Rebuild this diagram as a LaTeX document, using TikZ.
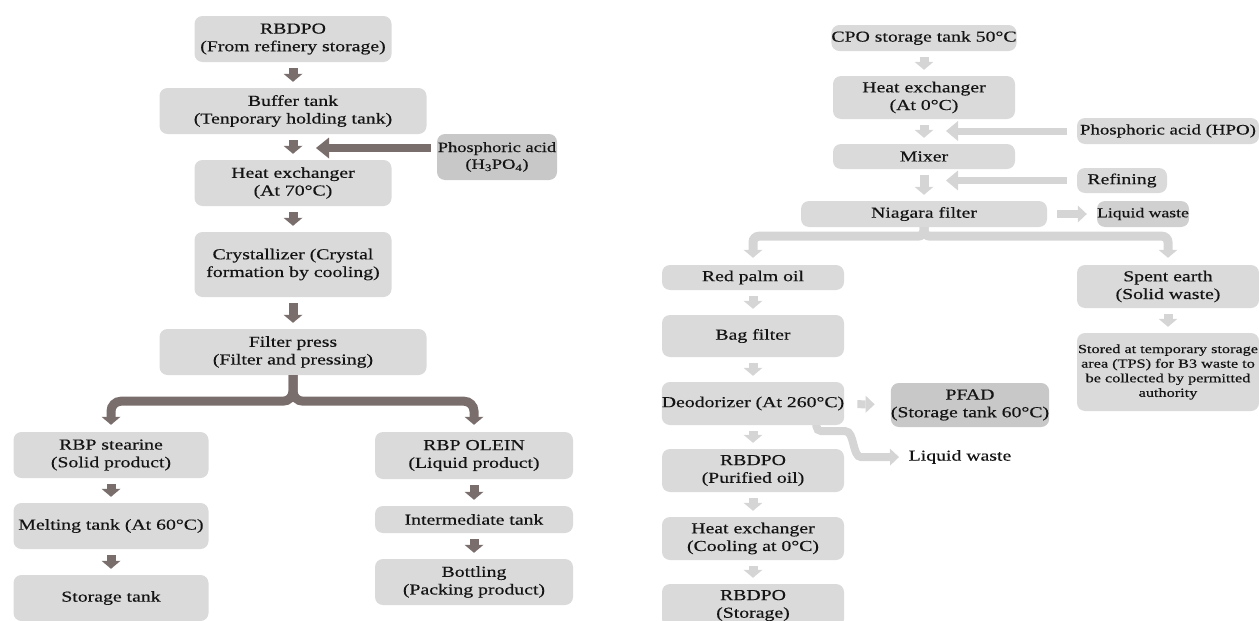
\documentclass[tikz,border=0pt]{standalone}
\usepackage{fontspec}
\setmainfont{Liberation Serif}[FakeStretch=1.3,FakeBold=0.4]
\usetikzlibrary{arrows.meta}

\newlength{\du}
\setlength{\du}{1pt}

\definecolor{boxgray}{rgb}{0.855000, 0.855000, 0.855000}
\definecolor{acidgray}{rgb}{0.785000, 0.785000, 0.785000}
\definecolor{wastegray}{rgb}{0.815000, 0.815000, 0.815000}
\definecolor{taupe}{rgb}{0.478000, 0.431000, 0.424000}
\definecolor{palegray}{rgb}{0.835000, 0.835000, 0.835000}
\definecolor{inkblack}{rgb}{0.080000, 0.080000, 0.080000}

% tip sizes in pt (1\du = 1pt)
\tikzset{
  procbox/.style={rounded corners=8\du, fill=boxgray, align=center, inner sep=0pt,
    text=inkblack, font=\fontsize{15.2}{17.7}\selectfont},
  acidbox/.style={procbox, fill=acidgray, font=\fontsize{14.2}{16.8}\selectfont},
  smallbox/.style={procbox, fill=wastegray, font=\fontsize{13.6}{16}\selectfont},
  notebox/.style={procbox, font=\fontsize{12.5}{14.6}\selectfont},
  freelabel/.style={inner sep=0pt, text=inkblack, font=\fontsize{15.2}{17.7}\selectfont},
  flowdown/.style={draw=taupe, line width=9\du, shorten <=6\du, shorten >=6\du,
    -{Triangle[width=19pt,length=8pt,line width=0pt]}},
  feedin/.style={draw=taupe, line width=8\du, shorten <=6\du,
    -{Triangle[width=21pt,length=13pt,line width=0pt]}},
  paledown/.style={flowdown, draw=palegray},
  palefeed/.style={draw=palegray, line width=7\du, shorten <=10\du,
    -{Triangle[width=20pt,length=12pt,line width=0pt]}},
  paleside/.style={draw=palegray, line width=8\du, shorten <=10\du, shorten >=10\du,
    -{Triangle[width=17pt,length=9pt,line width=0pt]}},
}

\begin{document}
\begin{tikzpicture}
\pgftransformxscale{1.000000}
\pgftransformyscale{-1.000000}
\useasboundingbox (0\du,0\du) rectangle (1259\du,621\du);
\clip (0\du,0\du) rectangle (1259\du,621\du);

% fractionation line
\node[procbox, minimum width=197\du, minimum height=46\du] (rbdpo) at (293\du,39\du) {RBDPO\\(From refinery storage)};
\node[procbox, minimum width=267\du, minimum height=46\du] (buffer) at (293\du,111\du) {Buffer tank\\(Tenporary holding tank)};
\node[acidbox, minimum width=120\du, minimum height=46\du] (phos) at (497\du,157\du) {Phosphoric acid\\(H\textsubscript{3}PO\textsubscript{4})};
\node[procbox, minimum width=197\du, minimum height=46\du] (heatA) at (293\du,183\du) {Heat exchanger\\(At 70°C)};
\node[procbox, minimum width=197\du, minimum height=65\du] (cryst) at (293\du,264.5\du) {Crystallizer (Crystal\\formation by cooling)};
\node[procbox, minimum width=267\du, minimum height=46\du] (fpress) at (293\du,352\du) {Filter press\\(Filter and pressing)};
\node[procbox, minimum width=195\du, minimum height=46\du] (stearine) at (111\du,455\du) {RBP stearine\\(Solid product)};
\node[procbox, minimum width=195\du, minimum height=46\du] (melting) at (111\du,526\du) {Melting tank (At 60°C)};
\node[procbox, minimum width=195\du, minimum height=46\du] (storage) at (111\du,598\du) {Storage tank};
\node[procbox, minimum width=198\du, minimum height=47\du] (olein) at (474\du,455.5\du) {RBP OLEIN\\(Liquid product)};
\node[procbox, minimum width=198\du, minimum height=27\du] (inter) at (474\du,519.5\du) {Intermediate tank};
\node[procbox, minimum width=198\du, minimum height=46\du] (bottling) at (474\du,582\du) {Bottling\\(Packing product)};
\coordinate (acidtip) at (316\du,148\du);

\draw[flowdown] (rbdpo) -- (buffer);
\draw[flowdown] (buffer) -- (heatA);
\draw[feedin] (phos.west |- acidtip) -- (acidtip);
\draw[flowdown] (heatA) -- (cryst);
\draw[flowdown] (cryst) -- (fpress);
\draw[flowdown, shorten <=0pt, shorten >=7\du, rounded corners=10\du] (fpress.south) -- ++(0\du,26\du) -| (stearine.north);
\draw[flowdown, shorten <=0pt, shorten >=7\du, rounded corners=10\du] (fpress.south) -- ++(0\du,26\du) -| (olein.north);
\draw[flowdown] (stearine) -- (melting);
\draw[flowdown] (melting) -- (storage);
\draw[flowdown] (olein) -- (inter);
\draw[flowdown] (inter) -- (bottling);

% refining line
\node[procbox, minimum width=182\du, minimum height=26\du] (cpo) at (924\du,38\du) {CPO storage tank 50°C};
\node[procbox, minimum width=182\du, minimum height=43\du] (heatB) at (924\du,97.5\du) {Heat exchanger\\(At 0°C)};
\node[procbox, minimum width=182\du, minimum height=26\du, font=\fontsize{14.5}{17}\selectfont] (hpo) at (1168\du,131\du) {Phosphoric acid (HPO)};
\node[procbox, minimum width=182\du, minimum height=25\du] (mixer) at (924\du,156.5\du) {Mixer};
\node[procbox, minimum width=90\du, minimum height=25\du] (refin) at (1122\du,180.5\du) {Refining};
\node[procbox, minimum width=246\du, minimum height=26\du] (niagara) at (924\du,214\du) {Niagara filter};
\node[smallbox, minimum width=92\du, minimum height=26\du] (lwbox) at (1143\du,214\du) {Liquid waste};
\node[procbox, minimum width=182\du, minimum height=25\du] (redpalm) at (753\du,277.5\du) {Red palm oil};
\node[procbox, minimum width=182\du, minimum height=43\du] (spent) at (1168\du,286.5\du) {Spent earth\\(Solid waste)};
\node[procbox, minimum width=182\du, minimum height=42\du] (bagf) at (753\du,336\du) {Bag filter};
\node[notebox, minimum width=182\du, minimum height=78\du] (stored) at (1168\du,372\du) {Stored at temporary storage\\area (TPS) for B3 waste to\\be collected by permitted\\authority};
\node[procbox, minimum width=182\du, minimum height=43\du] (deo) at (753\du,403.5\du) {Deodorizer (At 260°C)};
\node[procbox, fill=acidgray, minimum width=154\du, minimum height=44\du] (pfad) at (970\du,405\du) {PFAD\\(Storage tank 60°C)};
\node[freelabel] (lwtxt) at (960\du,457\du) {Liquid waste};
\node[procbox, minimum width=182\du, minimum height=43\du] (rbdpoB) at (753\du,470.5\du) {RBDPO\\(Purified oil)};
\node[procbox, minimum width=182\du, minimum height=43\du] (heatC) at (753\du,538.5\du) {Heat exchanger\\(Cooling at 0°C)};
\node[procbox, minimum width=182\du, minimum height=43\du] (rbdpoC) at (753\du,605.5\du) {RBDPO\\(Storage)};
\coordinate (hpotip) at (946\du,131\du);
\coordinate (reftip) at (946\du,180.5\du);

\draw[paledown] (cpo) -- (heatB);
\draw[paledown] (heatB) -- (mixer);
\draw[palefeed] (hpo.west) -- (hpotip);
\draw[paledown] (mixer) -- (niagara);
\draw[palefeed] (refin.west) -- (reftip);
\draw[paleside] (niagara) -- (lwbox);
\draw[paledown, shorten <=0pt, shorten >=7\du, rounded corners=6\du] (niagara.south) -- ++(0\du,9\du) -| (redpalm.north);
\draw[paledown, shorten <=0pt, shorten >=7\du, rounded corners=6\du] (niagara.south) -- ++(0\du,9\du) -| (spent.north);
\draw[paledown] (redpalm) -- (bagf);
\draw[paledown] (bagf) -- (deo);
\draw[paledown] (spent) -- (stored);
\draw[paleside, shorten <=13\du, shorten >=16\du] (deo) -- (pfad);
\draw[paleside, shorten <=0pt, shorten >=9.5\du, rounded corners=5\du] ([xshift=-28\du]deo.south east) -- ++(0\du,6\du) -- ++(24\du,0\du) to[out=0,in=180] ++(26\du,26\du) -- (lwtxt.west);
\draw[paledown] (deo) -- (rbdpoB);
\draw[paledown] (rbdpoB) -- (heatC);
\draw[paledown] (heatC) -- (rbdpoC);
\end{tikzpicture}
\end{document}
